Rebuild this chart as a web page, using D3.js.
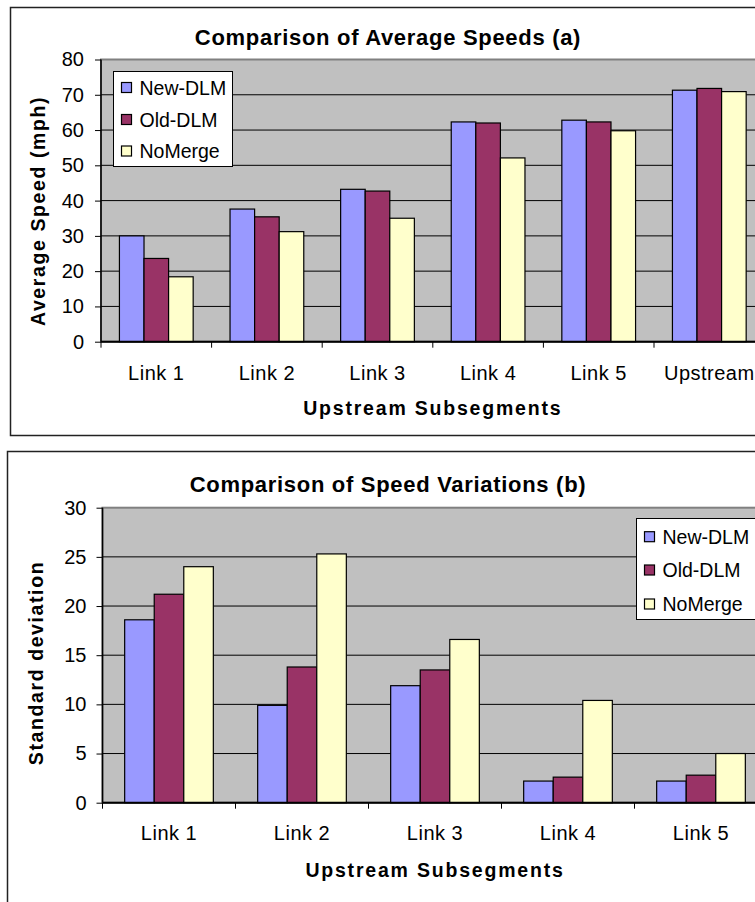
<!DOCTYPE html>
<html>
<head>
<meta charset="utf-8">
<script src="https://cdn.jsdelivr.net/npm/d3@7"></script>
<style>
  body { margin: 0; background: #fff; }
  svg { display: block; font-family: 'Liberation Sans', Arial, sans-serif; }
  .axis path, .axis line { stroke: #000; }
  .axis text { font-size: 20px; fill: #000; }
</style>
</head>
<body>
<svg id="chart" width="755" height="902"></svg>
<script>
const SeriesNames = ['New-DLM', 'Old-DLM', 'NoMerge'];
const SeriesColors = ['#9999FF', '#993366', '#FFFFCC'];

// chart (a)
const speedLinks = ['Link 1', 'Link 2', 'Link 3', 'Link 4', 'Link 5', 'Upstream'];
const newDlmSpeeds = [30.0, 37.6, 43.2, 62.3, 62.8, 71.3];
const oldDlmSpeeds = [23.6, 35.4, 42.7, 62.0, 62.3, 71.8];
const noMergeSpeeds = [18.4, 31.2, 35.0, 52.1, 59.8, 70.9];
const speedTicks = [0, 10, 20, 30, 40, 50, 60, 70, 80];

// chart (b)
const stdLinks = ['Link 1', 'Link 2', 'Link 3', 'Link 4', 'Link 5'];
const newDlmStd = [18.6, 9.9, 11.9, 2.2, 2.2];
const oldDlmStd = [21.2, 13.8, 13.5, 2.6, 2.8];
const noMergeStd = [24.0, 25.3, 16.6, 10.4, 5.0];
const stdTicks = [0, 5, 10, 15, 20, 25, 30];

const svg = d3.select('#chart');

const makeChart = cfg => {
  const g = svg.append('g');

  g.append('rect')
    .attr('x', cfg.frame[0]).attr('y', cfg.frame[1])
    .attr('width', cfg.frame[2]).attr('height', cfg.frame[3])
    .attr('fill', '#fff')
    .attr('stroke', '#222')
    .attr('stroke-width', 1.5);

  g.append('text')
    .attr('x', 388).attr('y', cfg.titleY)
    .attr('text-anchor', 'middle')
    .style('font-size', '22px').style('font-weight', 'bold')
    .style('letter-spacing', '0.7px')
    .text(cfg.title);

  const [left, top, right, bottom] = cfg.plot;
  const x = d3.scaleBand().domain(cfg.categories).range([left, right]);
  const y = d3.scaleLinear().domain([0, d3.max(cfg.ticks)]).range([bottom, top]);
  const barW = x.bandwidth() / 4.5;

  g.append('rect')
    .attr('x', left).attr('y', top)
    .attr('width', right - left).attr('height', bottom - top)
    .attr('fill', '#C0C0C0')
    .attr('stroke', '#808080')
    .attr('stroke-width', 2);

  g.append('g')
    .selectAll('line')
    .data(cfg.ticks.slice(1, -1))
    .enter().append('line')
      .attr('x1', left).attr('x2', right)
      .attr('y1', d => y(d)).attr('y2', d => y(d))
      .attr('stroke', '#000');

  const rows = cfg.series.map((values, s) => values.map((v, i) => ({
    s, v, cat: cfg.categories[i]
  })));

  g.append('g')
    .selectAll('g')
    .data(rows)
    .enter().append('g')
      .attr('fill', (_, s) => SeriesColors[s])
      .selectAll('rect')
      .data(d => d)
      .enter().append('rect')
        .attr('x', d => x(d.cat) + 0.75 * barW + d.s * barW)
        .attr('y', d => y(d.v))
        .attr('width', barW)
        .attr('height', d => bottom - y(d.v))
        .attr('stroke', '#000')
        .attr('stroke-width', 1.2);

  const yAxis = d3.axisLeft(y)
    .tickValues(cfg.ticks)
    .tickSize(6)
    .tickPadding(cfg.tickPad);
  g.append('g')
    .classed('axis', true)
    .attr('transform', `translate(${left},0)`)
    .call(yAxis)
    .call(a => a.select('.domain').attr('d', `M0,${top}V${bottom}`).attr('stroke-width', 1.5));

  const xAxis = g.append('g')
    .classed('axis', true)
    .attr('transform', `translate(0,${bottom})`);
  xAxis.append('line')
    .attr('x1', left).attr('x2', right)
    .attr('stroke', '#000').attr('stroke-width', 2);
  xAxis.selectAll('line.tick')
    .data(cfg.categories)
    .enter().append('line')
      .classed('tick', true)
      .attr('x1', d => x(d)).attr('x2', d => x(d))
      .attr('y1', 0).attr('y2', 6)
      .attr('stroke', '#000');
  xAxis.selectAll('text')
    .data(cfg.categories)
    .enter().append('text')
      .attr('x', d => x(d) + x.bandwidth() / 2)
      .attr('y', cfg.labelDy)
      .attr('text-anchor', 'middle')
      .style('letter-spacing', '0.5px')
      .text(d => d);

  g.append('text')
    .attr('x', (left + right) / 2).attr('y', cfg.xTitleY)
    .attr('text-anchor', 'middle')
    .style('font-size', '19.5px').style('font-weight', 'bold')
    .style('letter-spacing', '1.8px')
    .text('Upstream Subsegments');

  g.append('text')
    .attr('transform', `translate(${cfg.yTitle[0]},${cfg.yTitle[1]}) rotate(-90)`)
    .attr('text-anchor', 'middle')
    .attr('dy', '0.35em')
    .style('font-size', '19.5px').style('font-weight', 'bold')
    .style('letter-spacing', '1.6px')
    .text(cfg.yLabel);

  const [lx, ly, lw, lh] = cfg.legend;
  const legend = g.append('g');
  legend.append('rect')
    .attr('x', lx).attr('y', ly).attr('width', lw).attr('height', lh)
    .attr('fill', '#fff').attr('stroke', '#000');
  const items = legend.selectAll('g')
    .data(SeriesNames)
    .enter().append('g')
      .attr('transform', (_, i) => `translate(${lx + 8},${cfg.legendY[i]})`);
  items.append('rect')
    .attr('x', 0).attr('y', -5)
    .attr('width', 10).attr('height', 10)
    .attr('fill', (_, i) => SeriesColors[i])
    .attr('stroke', '#000').attr('stroke-width', 1.2);
  items.append('text')
    .attr('x', 18).attr('dy', '0.36em')
    .style('font-size', '19.5px')
    .text(d => d);
};

makeChart({
  title: 'Comparison of Average Speeds (a)',
  yLabel: 'Average Speed (mph)',
  frame: [10.5, 7.5, 760, 428],
  titleY: 45,
  plot: [101, 59.5, 764.6, 341.7],
  categories: speedLinks,
  series: [newDlmSpeeds, oldDlmSpeeds, noMergeSpeeds],
  ticks: speedTicks,
  tickPad: 11,
  labelDy: 38,
  xTitleY: 415,
  yTitle: [38.5, 211],
  legend: [113.5, 71.5, 119, 95],
  legendY: [87.5, 119.5, 151]
});

makeChart({
  title: 'Comparison of Speed Variations (b)',
  yLabel: 'Standard deviation',
  frame: [7.5, 451.5, 762, 480],
  titleY: 492,
  plot: [102.5, 507.7, 767.5, 802.7],
  categories: stdLinks,
  series: [newDlmStd, oldDlmStd, noMergeStd],
  ticks: stdTicks,
  tickPad: 10,
  labelDy: 37,
  xTitleY: 877,
  yTitle: [36, 663],
  legend: [636.5, 518.5, 140, 101],
  legendY: [536.7, 570, 604]
});
</script>
</body>
</html>
